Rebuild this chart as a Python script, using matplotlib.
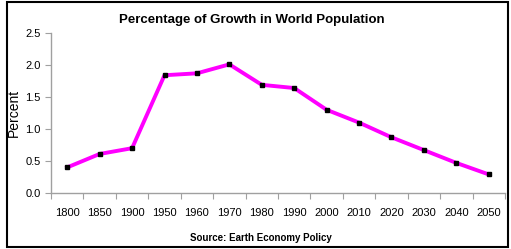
import matplotlib.pyplot as plt
from matplotlib.patches import Rectangle

years = ['1800', '1850', '1900', '1950', '1960', '1970', '1980', '1990',
         '2000', '2010', '2020', '2030', '2040', '2050']
growth = [0.40, 0.61, 0.70, 1.84, 1.87, 2.01, 1.69, 1.64,
          1.30, 1.10, 0.87, 0.67, 0.47, 0.29]
yticks = [0.0, 0.5, 1.0, 1.5, 2.0, 2.5]

plt.rcParams['font.family'] = ['Liberation Sans', 'DejaVu Sans']

W, H = 511, 249
fig = plt.figure(figsize=(W / 100, H / 100), dpi=100)
ax = fig.add_axes([51 / W, (H - 193) / H, (505 - 51) / W, (193 - 33) / H])

x = range(len(years))
ax.plot(x, growth, color='#ff00ff', linewidth=2.8, marker='s',
        markersize=3.5, markerfacecolor='black', markeredgecolor='black')

ax.set_xlim(-0.5, len(years) - 0.5)
ax.set_ylim(0, 2.5)
ax.set_yticks(yticks)
ax.set_yticklabels([f'{v:.1f}' for v in yticks], fontsize=8)
ax.set_xticks([i - 0.5 for i in range(len(years) + 1)])
ax.set_xticklabels([])
ax.set_xticks(list(x), minor=True)
ax.set_xticklabels(years, minor=True, fontsize=8)
ax.tick_params(axis='x', which='minor', length=0, pad=11)
ax.tick_params(axis='both', which='major', color='#a0a0a0', length=4, width=0.8)

for s in ['top', 'right']:
    ax.spines[s].set_visible(False)
for s in ['left', 'bottom']:
    ax.spines[s].set_color('#a0a0a0')
    ax.spines[s].set_linewidth(1.0)

ax.set_ylabel('Percent', fontsize=10, labelpad=3)

fig.text(252 / W, 1 - 20 / H, 'Percentage of Growth in World Population',
         ha='center', va='center', fontsize=9.5, fontweight='bold')
fig.text(261 / W, 1 - 238 / H, 'Source: Earth Economy Policy',
         ha='center', va='center', fontsize=7, fontweight='bold')

fig.patches.append(Rectangle((7 / W, 2 / H), (508 - 7) / W, (247 - 2) / H,
                             transform=fig.transFigure, fill=False,
                             edgecolor='black', linewidth=1.5))

fig.savefig('out.png', dpi=100)
